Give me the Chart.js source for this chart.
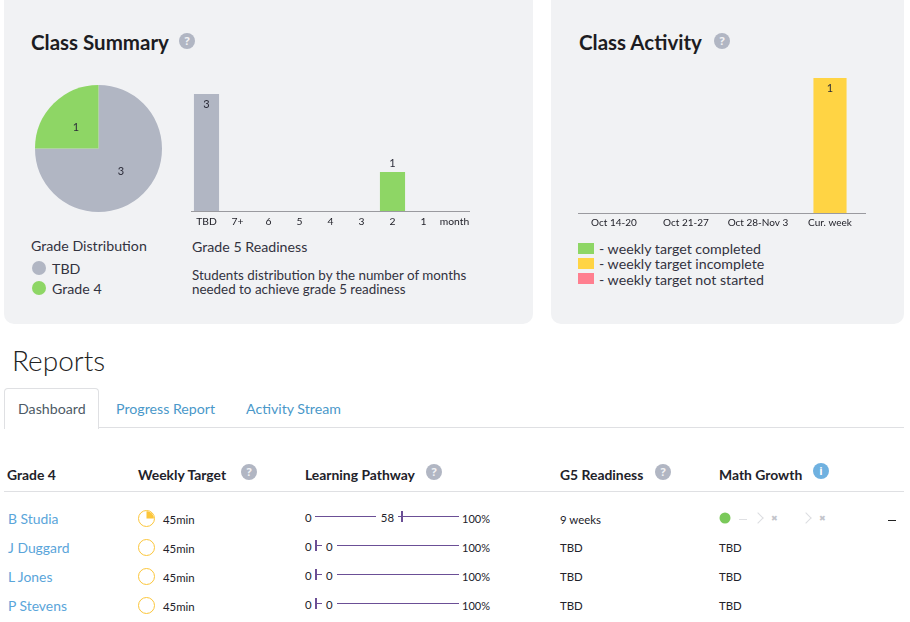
<!DOCTYPE html>
<html>
<head>
<meta charset="utf-8">
<title>Class dashboard</title>
<script src="https://cdn.jsdelivr.net/npm/chart.js@4"></script>
<style>
html, body { margin: 0; padding: 0; background: #fff; }
body { position: relative; width: 910px; height: 622px; overflow: hidden; font-family: Lato, sans-serif; color: #2b2b38; }
.abs, canvas { position: absolute; }
.abs { white-space: nowrap; line-height: 1; transform: translateY(-50%); }
.card { position: absolute; top: -10px; height: 334px; background: #f1f2f4; border-radius: 10px; }
.title { font-size: 20.5px; font-weight: 700; color: #1c1c22; }
.help { position: absolute; width: 16px; height: 16px; border-radius: 50%; background: #b1b6c3; color: #f1f2f4; font: bold 11px/16px "Open Sans", sans-serif; text-align: center; transform: translate(-50%, -50%); }
.info { background: #6fb1e0; color: #fff; }
.sub { font-size: 14.2px; color: #33333f; }
.note { font-size: 13.4px; color: #33333f; }
.dot { position: absolute; width: 14px; height: 14px; border-radius: 50%; transform: translate(-50%, -50%); }
.swatch { position: absolute; left: 578px; width: 16px; height: 11px; }
.th { font-size: 13.9px; font-weight: 700; color: #22222a; }
.link { font-size: 13.9px; color: #5aa5da; }
.tab { font-size: 14.2px; color: #4a98c9; }
.cell { font-size: 11.4px; color: #22222a; }
.rule { position: absolute; background: #dfe0e3; }
.path { position: absolute; background: #6b4f96; height: 1px; }
.ring { position: absolute; left: 138px; width: 15px; height: 15px; border: 1.5px solid #fcc63a; border-radius: 50%; overflow: hidden; }
.ring canvas { left: 0; top: 0; }
.chev { position: absolute; width: 7px; height: 7px; border-top: 1.5px solid #dcdde1; border-right: 1.5px solid #dcdde1; transform: rotate(45deg); }
</style>
</head>
<body>
<div class="card" style="left:4px;width:529px"></div>
<div class="card" style="left:551px;width:353px"></div>

<div class="abs title" style="left:31px;top:42px">Class Summary</div>
<div class="help" style="left:187px;top:41px">?</div>
<div class="abs title" style="left:579px;top:42px">Class Activity</div>
<div class="help" style="left:722px;top:41px">?</div>

<canvas id="gradePie" width="127" height="127" style="left:35px;top:85px"></canvas>
<canvas id="readinessBars" width="279" height="141" style="left:191px;top:94px"></canvas>
<canvas id="activityBars" width="288" height="159" style="left:578px;top:78px"></canvas>

<div class="abs sub" style="left:31px;top:246px">Grade Distribution</div>
<div class="dot" style="left:39px;top:268px;background:#b1b6c3"></div>
<div class="abs sub" style="left:52px;top:269px">TBD</div>
<div class="dot" style="left:39px;top:288px;background:#8ed665"></div>
<div class="abs sub" style="left:52px;top:289px">Grade 4</div>

<div class="abs sub" style="left:192px;top:247px">Grade 5 Readiness</div>
<div class="abs note" style="left:192px;top:276px">Students distribution by the number of months</div>
<div class="abs note" style="left:192px;top:290px">needed to achieve grade 5 readiness</div>

<div class="swatch" style="top:243px;background:#8ed665"></div>
<div class="abs sub" style="left:599px;top:249px">- weekly target completed</div>
<div class="swatch" style="top:258px;background:#ffd444"></div>
<div class="abs sub" style="left:599px;top:264px">- weekly target incomplete</div>
<div class="swatch" style="top:273px;background:#ff7f8f"></div>
<div class="abs sub" style="left:599px;top:280px">- weekly target not started</div>

<div class="abs" style="left:12px;top:360px;font-size:28px;font-weight:300;color:#222">Reports</div>

<div style="position:absolute;left:4px;top:388px;width:93px;height:40px;border:1px solid #dfe0e3;border-bottom:none;border-radius:4px 4px 0 0;background:#fff;z-index:1"></div>
<div class="rule" style="left:99px;top:427px;width:805px;height:1px"></div>
<div class="abs tab" style="left:18px;top:409px;color:#4d5a66;z-index:2">Dashboard</div>
<div class="abs tab" style="left:116px;top:409px">Progress Report</div>
<div class="abs tab" style="left:246px;top:409px">Activity Stream</div>

<div class="abs th" style="left:7px;top:474.5px">Grade 4</div>
<div class="abs th" style="left:138px;top:474.5px">Weekly Target</div>
<div class="help" style="left:249px;top:472px">?</div>
<div class="abs th" style="left:305px;top:474.5px">Learning Pathway</div>
<div class="help" style="left:434px;top:472px">?</div>
<div class="abs th" style="left:560px;top:474.5px">G5 Readiness</div>
<div class="help" style="left:663px;top:472px">?</div>
<div class="abs th" style="left:719px;top:474.5px">Math Growth</div>
<div class="help info" style="left:821px;top:471px">i</div>
<div class="rule" style="left:4px;top:491px;width:900px;height:1px"></div>

<div id="rows"></div>

<script>
// Class Summary
const gradeLabels = ['TBD', 'Grade 4'];
const gradeCounts = [3, 1];
const readinessLabels = ['TBD', '7+', '6', '5', '4', '3', '2', '1', 'month'];
const readinessCounts = [3, 0, 0, 0, 0, 0, 1, 0, 0];

// Class Activity
const weekLabels = ['Oct 14-20', 'Oct 21-27', 'Oct 28-Nov 3', 'Cur. week'];
const weekCompleted = [0, 0, 0, 0];
const weekIncomplete = [0, 0, 0, 1];
const weekNotStarted = [0, 0, 0, 0];

// Report rows
const students = ['B Studia', 'J Duggard', 'L Jones', 'P Stevens'];
const rowY = [519, 548, 577, 606];
const targetMinutes = [45, 45, 45, 45];
const targetDone = [25, 0, 0, 0];
const pathway = [58, 0, 0, 0];
const readiness = ['9 weeks', 'TBD', 'TBD', 'TBD'];
const growth = ['', 'TBD', 'TBD', 'TBD'];

const GREY = '#b1b6c3', GREEN = '#8ed665', YELLOW = '#ffd444', RED = '#ff7f8f';
const FONT = 'Lato, sans-serif';

Chart.defaults.font.family = FONT;
Chart.defaults.animation = false;
Chart.defaults.responsive = false;
Chart.defaults.plugins.legend.display = false;
Chart.defaults.plugins.tooltip.enabled = false;

// value labels on slices and bars
const valueLabels = {
    id: 'valueLabels',
    afterDatasetsDraw(chart) {
        const ctx = chart.ctx;
        ctx.save();
        ctx.font = '11px ' + FONT;
        ctx.fillStyle = '#2b2b38';
        ctx.textAlign = 'center';
        ctx.textBaseline = 'middle';
        chart.data.datasets.forEach((ds, i) => {
            chart.getDatasetMeta(i).data.forEach((el, j) => {
                const v = ds.data[j];
                if (!v) return;
                if (chart.config.type === 'pie') {
                    const p = el.tooltipPosition();
                    ctx.fillText(v, p.x, p.y + 1);
                } else {
                    const inside = el.y - chart.chartArea.top < 20;
                    ctx.fillText(v, el.x, inside ? el.y + 10 : el.y - 9);
                }
            });
        });
        ctx.restore();
    }
};

function barOptions(maxValue, tickSize, axisDash) {
    return {
        layout: { padding: 0 },
        scales: {
            x: {
                stacked: true,
                afterFit: s => {
                    s.height = 24;
                    s.paddingLeft = 0;
                    s.paddingRight = 0;
                },
                grid: { display: false, drawTicks: false },
                border: { color: '#9a9a9f', width: 1, dash: axisDash },
                ticks: { color: '#22222a', font: { size: tickSize }, padding: 4, maxRotation: 0, autoSkip: false }
            },
            y: { stacked: true, display: false, min: 0, max: maxValue }
        }
    };
}

new Chart(document.getElementById('gradePie'), {
    type: 'pie',
    data: { labels: gradeLabels, datasets: [{ data: gradeCounts, backgroundColor: [GREY, GREEN], borderWidth: 0 }] },
    plugins: [valueLabels]
});

new Chart(document.getElementById('readinessBars'), {
    type: 'bar',
    data: {
        labels: readinessLabels,
        datasets: [{
            data: readinessCounts,
            backgroundColor: readinessLabels.map((l, i) => i === 0 ? GREY : GREEN),
            categoryPercentage: 1,
            barPercentage: 0.81
        }]
    },
    options: barOptions(3, 10.3, [30, 1]),
    plugins: [valueLabels]
});

new Chart(document.getElementById('activityBars'), {
    type: 'bar',
    data: {
        labels: weekLabels,
        datasets: [
            { label: 'weekly target completed', data: weekCompleted, backgroundColor: GREEN, categoryPercentage: 1, barPercentage: 0.46 },
            { label: 'weekly target incomplete', data: weekIncomplete, backgroundColor: YELLOW, categoryPercentage: 1, barPercentage: 0.46 },
            { label: 'weekly target not started', data: weekNotStarted, backgroundColor: RED, categoryPercentage: 1, barPercentage: 0.46 }
        ]
    },
    options: barOptions(1, 10, []),
    plugins: [valueLabels]
});

function addEl(cls, left, top, text, parent) {
    const d = document.createElement('div');
    d.className = cls;
    d.style.left = left + 'px';
    d.style.top = top + 'px';
    if (text !== undefined) d.textContent = text;
    (parent || document.getElementById('rows')).appendChild(d);
    return d;
}

function addLine(x1, x2, y) {
    const d = addEl('path', x1, y);
    d.style.width = (x2 - x1) + 'px';
}

function addTick(x, y) {
    const d = addEl('path', x, y - 5);
    d.style.width = '2px';
    d.style.height = '11px';
}

function renderRows() {
    students.forEach((name, i) => {
        const y = rowY[i];
        addEl('abs link', 8, y, name);

        const ring = addEl('ring', 138, y - 9);
        const cv = document.createElement('canvas');
        cv.width = 15;
        cv.height = 15;
        ring.appendChild(cv);
        new Chart(cv, {
            type: 'pie',
            data: { datasets: [{ data: [targetDone[i], 100 - targetDone[i]], backgroundColor: ['#fcc63a', 'rgba(0,0,0,0)'], borderWidth: 0 }] }
        });
        addEl('abs cell', 163, y + 1, targetMinutes[i] + 'min');

        // learning pathway slider, tick sits at the student's value
        const v = pathway[i];
        const tickX = 315 + v * 1.48;
        addEl('abs cell', 305, y - 1, '0');
        addEl('abs cell', 462, y - 1, '100%').style.fontSize = '11px';
        addTick(tickX, y - 3);
        if (v > 0) {
            addEl('abs cell', tickX - 20, y - 1, v);
            addLine(315, tickX - 25, y - 3);
            addLine(tickX - 3, 459, y - 3);
        } else {
            addEl('abs cell', tickX + 11, y - 1, v);
            addLine(tickX, tickX + 7, y - 3);
            addLine(tickX + 22, 459, y - 3);
        }

        addEl('abs cell', 560, i === 0 ? y + 1 : y, readiness[i]);
        if (growth[i]) addEl('abs cell', 719, y, growth[i]);
    });

    // first row has a growth trail instead of TBD
    const dot = addEl('dot', 724.5, 518);
    dot.style.width = dot.style.height = '11px';
    dot.style.background = '#7ac95a';
    const dash = addEl('rule', 739, 519);
    dash.style.width = '8px';
    dash.style.height = '1px';
    addEl('chev', 754, 514);
    addEl('abs cell', 771, 518, '✖').style.cssText += ';color:#c3c5cb;font-size:8px';
    addEl('chev', 802, 514);
    addEl('abs cell', 819, 518, '✖').style.cssText += ';color:#c3c5cb;font-size:8px';
    const minus = addEl('rule', 888, 520);
    minus.style.width = '8px';
    minus.style.height = '1px';
    minus.style.background = '#222';
}

renderRows();
</script>
</body>
</html>
